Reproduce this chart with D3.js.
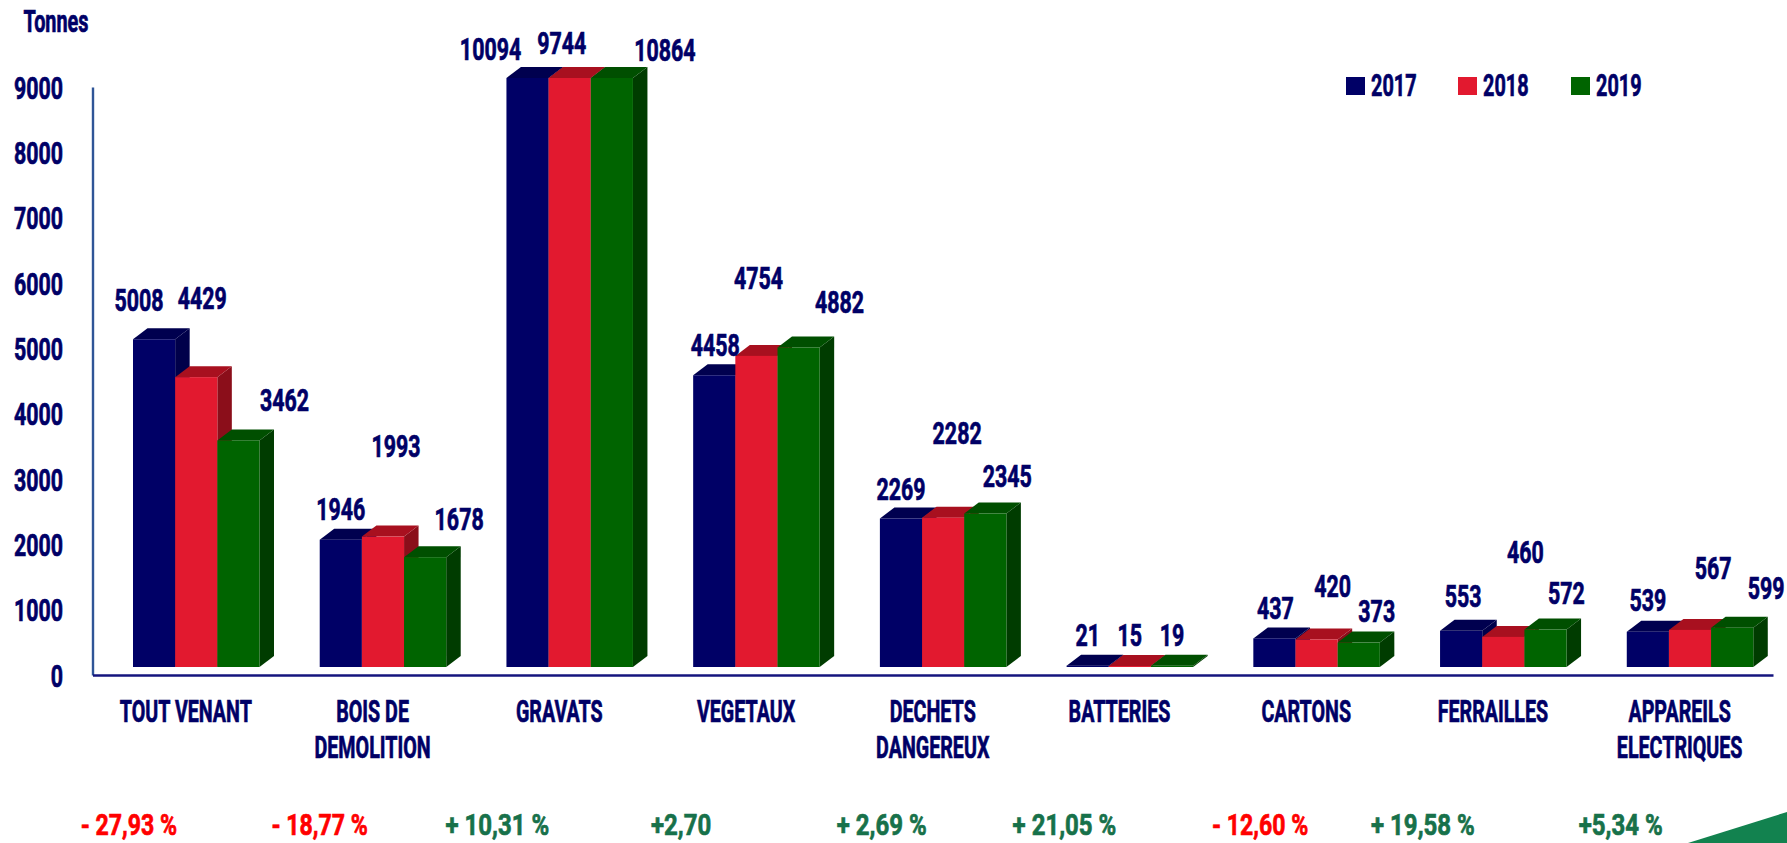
<!DOCTYPE html>
<html><head><meta charset="utf-8">
<script src="https://cdn.jsdelivr.net/npm/d3@7/dist/d3.min.js"></script>
<style>
html,body{margin:0;padding:0;background:#fff;overflow:hidden}
svg{display:block}
text{font-family:"Roboto","Liberation Sans",sans-serif;font-weight:700;fill:#000066;stroke:#000066;stroke-width:.7px}
</style></head><body>
<svg id="c" width="1787" height="843"></svg>
<script>
const categories=["TOUT VENANT","BOIS DE DEMOLITION","GRAVATS","VEGETAUX","DECHETS DANGEREUX","BATTERIES","CARTONS","FERRAILLES","APPAREILS ELECTRIQUES"];
const categoryLines=[["TOUT VENANT"],["BOIS DE","DEMOLITION"],["GRAVATS"],["VEGETAUX"],["DECHETS","DANGEREUX"],["BATTERIES"],["CARTONS"],["FERRAILLES"],["APPAREILS","ELECTRIQUES"]];
const years=["2017","2018","2019"];
const values2017=[5008,1946,10094,4458,2269,21,437,553,539];
const values2018=[4429,1993,9744,4754,2282,15,420,460,567];
const values2019=[3462,1678,10864,4882,2345,19,373,572,599];
const yTicks=[0,1000,2000,3000,4000,5000,6000,7000,8000,9000];
const changes=["- 27,93 %","- 18,77  %","+ 10,31 %","+2,70","+ 2,69 %","+ 21,05 %","- 12,60 %","+ 19,58 %","+5,34 %"];
const changeSign=[-1,-1,1,1,1,1,-1,1,1];

// layout-only: hand placement of the labels relative to their bar
const labelDx=[[-15,6,46],[0,13,34],[-37,-8,53],[1,2,41],[0,14,22],[0,0,0],[1,16,18],[2,22,21],[0,23,34]];
const labelDy=[[-39,-79,-41],[-31,-91,-38],[-29,-35,-28],[-30,-78,-46],[-30,-85,-38],[-31,-31,-31],[-31,-54,-32],[-35,-85,-37],[-32,-62,-40]];
const changeDx=[-57,-53,-62,-65,-51,-55,-46,-70,-59];

const series=[values2017,values2018,values2019];
const front=["#000066","#e2192f","#006400"], top_=["#00004f","#a8101f","#004f00"], side=["#00004a","#8b0e1a","#003c00"];
const depthX=14.5, depthY=11;
const svg=d3.select("#c");
const fs=31, numSX=.69, catSX=.635, smallSX=.64;

const x0=d3.scaleBand().domain(categories).range([92.5,1773]);
const x1=d3.scaleBand().domain(years).range([40.5,167]);
const yBar=d3.scaleLinear().domain([0,9000]).range([667,78]).clamp(true);
const yAxis=d3.scaleLinear().domain([0,9000]).range([675,87]);

// corner decoration
svg.append("polygon").attr("points","1688,843 1787,812 1787,843").attr("fill","#12824f");

// axes
const gy=svg.append("g").attr("transform","translate(92.5,0)")
  .call(d3.axisLeft(yAxis).tickValues(yTicks).tickSize(0).tickFormat(d3.format("d")));
gy.select(".domain").attr("stroke","#2f5597").attr("stroke-width",2.4);
gy.selectAll("text").attr("font-size",fs).attr("x",0).attr("dy",".36em").attr("text-anchor","end")
  .attr("transform","translate(-29.5,0) scale("+numSX+",1)");

const gx=svg.append("g").attr("transform","translate(0,675)")
  .call(d3.axisBottom(x0).tickSize(0).tickSizeOuter(0));
gx.select(".domain").attr("stroke","#14147e").attr("stroke-width",2.4);
gx.selectAll("text").each(function(d,i){
  const t=d3.select(this).text(null).attr("font-size",fs).attr("y",0).attr("dy",null).attr("text-anchor","middle")
    .attr("transform","scale("+catSX+",1)");
  categoryLines[i].forEach((s,k)=>t.append("tspan").attr("x",0).attr("y",47+k*36).text(s));
});

// bars
categories.forEach((c,i)=>{
  const g=svg.append("g").attr("transform","translate("+x0(c)+",0)");
  years.forEach((yr,s)=>{
    const v=series[s][i], l=x1(yr), w=x1.bandwidth(), r=l+w, t=yBar(v), b=yBar(0);
    g.append("polygon").attr("fill",side[s])
      .attr("points",[[r,t],[r+depthX,t-depthY],[r+depthX,b-depthY],[r,b]].join(" "));
    g.append("polygon").attr("fill",top_[s])
      .attr("points",[[l,t],[l+depthX,t-depthY],[r+depthX,t-depthY],[r,t]].join(" "));
    g.append("rect").attr("x",l).attr("y",t).attr("width",w).attr("height",b-t).attr("fill",front[s]);
  });
});

// value labels
categories.forEach((c,i)=>{
  years.forEach((yr,s)=>{
    const v=series[s][i];
    const px=x0(c)+x1(yr)+x1.bandwidth()/2+labelDx[i][s], py=yBar(v)+labelDy[i][s];
    svg.append("text").attr("font-size",fs).attr("text-anchor","middle").attr("dy",".36em")
      .attr("transform","translate("+px+","+py+") scale("+numSX+",1)").text(v);
  });
});

// change row
categories.forEach((c,i)=>{
  const neg=changeSign[i]<0, col=neg?"#ff0000":"#17714a";
  svg.append("text").attr("font-size",30).attr("text-anchor","middle").attr("dy",".36em")
    .style("fill",col).style("stroke",col)
    .attr("transform","translate("+(x0(c)+x0.bandwidth()/2+changeDx[i])+",824) scale("+(neg?.77:.8)+",1)").text(changes[i]);
});

// unit
svg.append("text").attr("font-size",fs).attr("text-anchor","middle").attr("dy",".36em")
  .attr("transform","translate(56,21) scale("+smallSX+",1)").text("Tonnes");

// legend
const legX=d3.scaleOrdinal().domain(years).range([1346,1458,1571]);
years.forEach((yr,s)=>{
  svg.append("rect").attr("x",legX(yr)).attr("y",77).attr("width",19).attr("height",18).attr("fill",front[s]);
  svg.append("text").attr("font-size",fs).attr("dy",".36em")
    .attr("transform","translate("+(legX(yr)+25)+",85) scale("+smallSX+",1)").text(yr);
});
</script></body></html>
